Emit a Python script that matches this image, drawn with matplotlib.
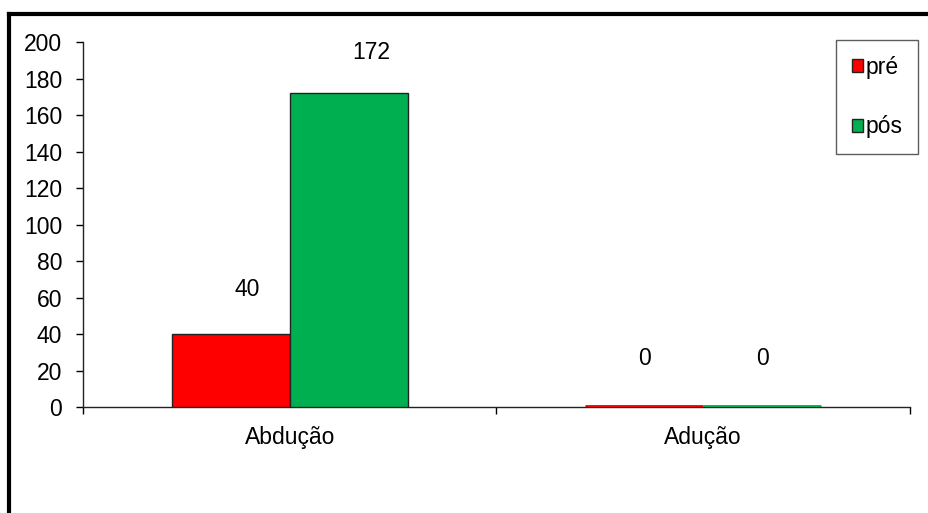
import numpy as np
import matplotlib.pyplot as plt
from matplotlib.lines import Line2D

plt.rcParams['font.family'] = ['Liberation Sans', 'DejaVu Sans']

# Data
categories = ['Abdução', 'Adução']
series_names = ['pré', 'pós']
pre_values = [40, 0]
pos_values = [172, 0]
colors = ['#FF0000', '#00B050']
yticks = [0, 20, 40, 60, 80, 100, 120, 140, 160, 180, 200]

# label nudges (points) for each value label: (dx, dy), pre then pos
label_off_pre = [(12, 32), (0, 35)]
label_off_pos = [(16, 29), (0, 35)]

FS = 16.5

fig = plt.figure(figsize=(9.29, 5.13), dpi=100)
ax = fig.add_axes([0.0893, 0.2066, 0.8902, 0.7114])

x = np.arange(len(categories)) + 0.5
w = 0.285

for vals, col, off, offs in [(pre_values, colors[0], -w / 2, label_off_pre),
                             (pos_values, colors[1], w / 2, label_off_pos)]:
    ax.bar(x + off, vals, width=w, color=col, edgecolor='#222222', linewidth=1.0, zorder=3)
    for xi, v, (dx, dy) in zip(x + off, vals, offs):
        if v == 0:
            # zero bars show up as a thin coloured strip on the axis
            ax.plot([xi - w / 2, xi + w / 2], [v, v], color=col, lw=3.5,
                    solid_capstyle='butt', zorder=4)
            ax.plot([xi - w / 2, xi + w / 2], [v, v], color='#222222', lw=0.8, zorder=4)
        ax.annotate(str(v), (xi, v), xytext=(dx, dy), textcoords='offset points',
                    ha='center', va='center', fontsize=FS)

ax.set_xlim(0, 2)
ax.set_ylim(0, 200)
ax.set_yticks(yticks)
ax.set_yticklabels([str(t) for t in yticks], fontsize=FS)
ax.tick_params(axis='y', direction='out', length=5, width=1, pad=10)

# category separators as outward ticks on the x axis
ax.set_xticks([0, 1, 2])
ax.set_xticklabels([])
ax.tick_params(axis='x', direction='out', length=5, width=1)
ax.set_xticks(x, minor=True)
ax.set_xticklabels(categories, minor=True, fontsize=FS)
ax.tick_params(axis='x', which='minor', length=0, pad=14)

for s in ['top', 'right']:
    ax.spines[s].set_visible(False)
for s in ['left', 'bottom']:
    ax.spines[s].set_linewidth(1)
    ax.spines[s].set_color('#222222')

handles = [plt.Rectangle((0, 0), 1, 1, facecolor=c, edgecolor='#222222', lw=1) for c in colors]
leg = ax.legend(handles, series_names, loc='upper right', bbox_to_anchor=(1.0097, 1.0055),
                fontsize=FS, frameon=True, fancybox=False, handlelength=0.48, handleheight=0.48,
                handletextpad=0.12, labelspacing=1.6, borderpad=0.68, borderaxespad=0)
leg.get_frame().set_edgecolor('#333333')
leg.get_frame().set_linewidth(1)

# outer chart border (left and top edges)
fig.add_artist(Line2D([0.0102, 0.0102], [0, 0.9727], transform=fig.transFigure,
                      color='black', lw=3, solid_capstyle='projecting'))
fig.add_artist(Line2D([0.0102, 1.0], [0.9727, 0.9727], transform=fig.transFigure,
                      color='black', lw=3, solid_capstyle='projecting'))

fig.savefig('out.png', dpi=100)
